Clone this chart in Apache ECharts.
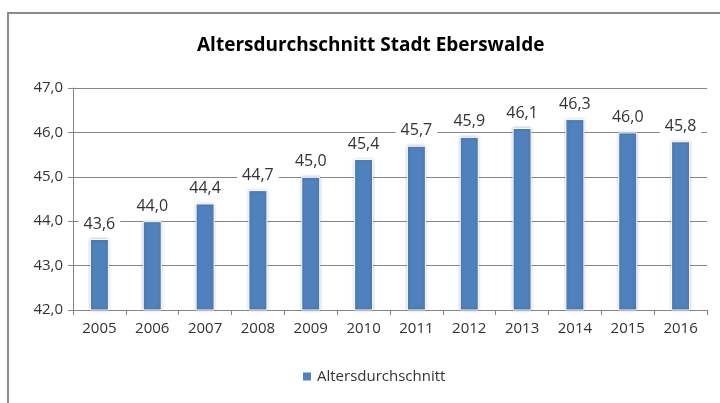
<!DOCTYPE html>
<html>
<head>
<meta charset="utf-8">
<script src="https://cdn.jsdelivr.net/npm/echarts@6/dist/echarts.min.js"></script>
<style>
  html, body { margin: 0; padding: 0; background: #fff; }
  #frame { position: absolute; left: 7px; top: 12px; width: 760px; height: 420px; border: 2px solid #8c8c8c; box-sizing: border-box; }
  #chart { position: absolute; left: 0; top: 0; width: 720px; height: 403px; }
</style>
</head>
<body>
<div id="frame"></div>
<div id="chart"></div>
<script>
// Altersdurchschnitt Stadt Eberswalde
var jahre = ['2005', '2006', '2007', '2008', '2009', '2010', '2011', '2012', '2013', '2014', '2015', '2016'];
var alter = [43.6, 44.0, 44.4, 44.7, 45.0, 45.4, 45.7, 45.9, 46.1, 46.3, 46.0, 45.8];
var serienName = 'Altersdurchschnitt';

var fmt = function (v) { return Number(v).toFixed(1).replace('.', ','); };

var chart = echarts.init(document.getElementById('chart'));
chart.setOption({
    animation: false,
    textStyle: { fontFamily: 'Open Sans' },
    title: {
        text: 'Altersdurchschnitt Stadt Eberswalde',
        left: 192,
        top: 31,
        textStyle: { fontSize: 19, fontWeight: 'bold', color: '#000', fontFamily: 'Open Sans' }
    },
    legend: {
        data: [serienName],
        bottom: 14,
        left: 296,
        itemWidth: 10,
        itemHeight: 10,
        itemGap: 4,
        icon: 'rect',
        textStyle: { fontSize: 15, color: '#333' }
    },
    grid: { left: 73, right: 13, top: 88, bottom: 93 },
    xAxis: {
        type: 'category',
        data: jahre,
        axisLine: { lineStyle: { color: '#868686' } },
        axisTick: { show: true, length: 5, lineStyle: { color: '#868686' } },
        axisLabel: { fontSize: 15, color: '#333', margin: 11 }
    },
    yAxis: {
        type: 'value',
        min: 42,
        max: 47,
        interval: 1,
        axisLine: { show: true, lineStyle: { color: '#868686' } },
        axisTick: { show: true, length: 5, lineStyle: { color: '#868686' } },
        splitLine: { lineStyle: { color: '#868686' } },
        axisLabel: { fontSize: 15, color: '#333', margin: 10, formatter: fmt }
    },
    series: [{
        name: serienName,
        type: 'bar',
        data: alter,
        barWidth: 19,
        itemStyle: {
            color: '#4F81BD',
            borderColor: '#fff',
            borderWidth: 1,
            shadowColor: 'rgba(0,0,0,0.25)',
            shadowBlur: 3
        },
        label: {
            show: true,
            position: 'top',
            distance: 6,
            fontSize: 16,
            color: '#333',
            backgroundColor: '#fff',
            padding: [1, 5],
            formatter: function (p) { return fmt(p.value); }
        }
    }]
});
</script>
</body>
</html>
